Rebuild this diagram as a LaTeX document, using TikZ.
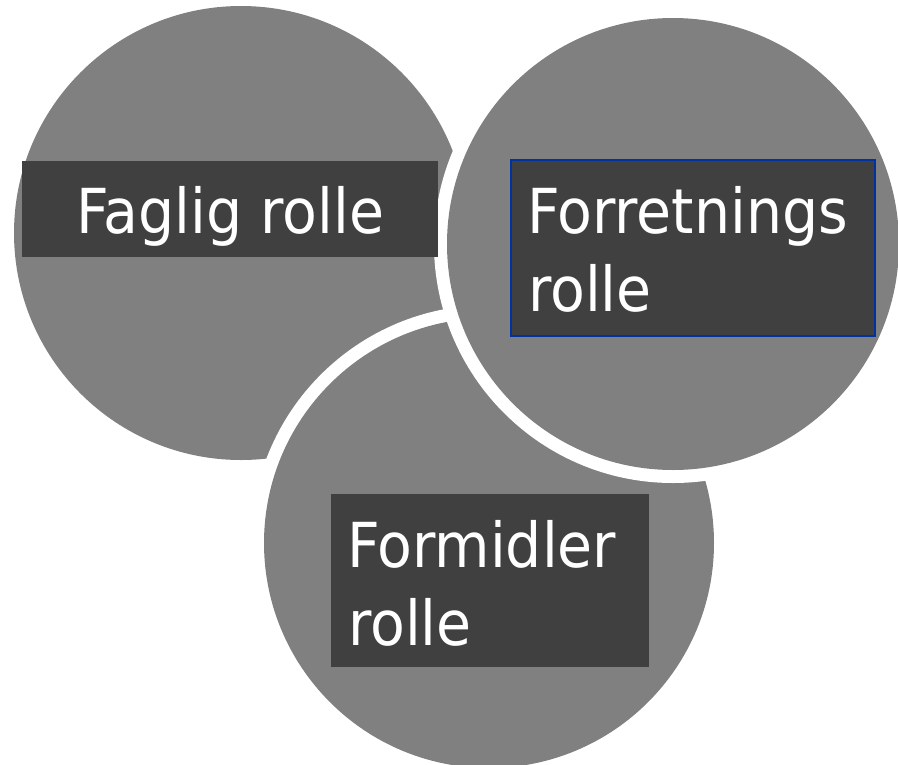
\documentclass[tikz,border=0pt]{standalone}
\usepackage{fontspec}
\setmainfont{DejaVu Sans Condensed}[FakeStretch=1.02]
\definecolor{circgray}{HTML}{808080}
\definecolor{boxgray}{HTML}{404040}
\definecolor{boxblue}{HTML}{0033A0}
\begin{document}
\begin{tikzpicture}[x=1pt,y=-1pt,
  role/.style={circle,fill=circgray,inner sep=0pt,minimum size=#1},
  rolebox/.style={rectangle,fill=boxgray,inner sep=0pt},
  label/.style={inner sep=0pt,text=white,font=\fontsize{62}{78}\selectfont}]
\clip (0,0) rectangle (898,764);
\fill[white] (241,233) circle (240);
\node[role=454pt] (c1) at (241,233) {};
\fill[white] (489,543) circle (238);
\node[role=450pt] (c3) at (489,543) {};
\fill[white] (673,244) circle (239);
\node[role=452pt] (c2) at (673,244) {};
\node[rolebox,minimum width=416pt,minimum height=96pt] (b1) at (230,209) {};
\node[rolebox,draw=boxblue,line width=1.5pt,minimum width=364pt,minimum height=176pt] (b2) at (693,248) {};
\node[rolebox,minimum width=318pt,minimum height=173pt] (b3) at (490,580.5) {};
\node[label,anchor=base] (t1) at (230.5,233) {Faglig rolle};
\node[label,anchor=base west] (t2a) at (527,233) {Forretnings};
\node[label,anchor=base west] (t2b) at (528,311) {rolle};
\node[label,anchor=base west] (t3a) at (347,567) {Formidler};
\node[label,anchor=base west] (t3b) at (348,645) {rolle};
\end{tikzpicture}
\end{document}
